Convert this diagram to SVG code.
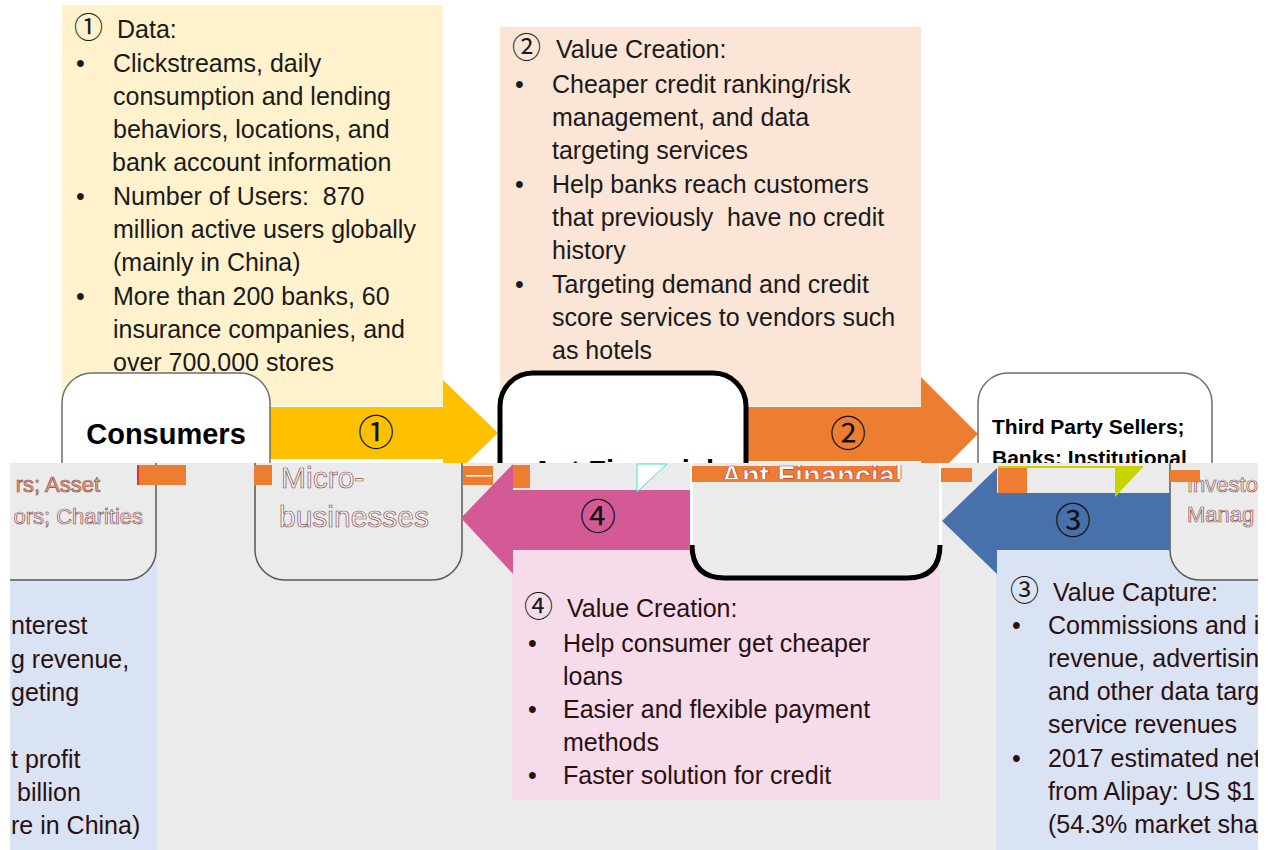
<svg xmlns="http://www.w3.org/2000/svg" width="1270" height="850" viewBox="0 0 1270 850">
<defs>
<style>
.t{font-family:"Liberation Sans",Arial,sans-serif;font-size:25px;fill:#1a1a1a}
.bt{fill:#2a1010}
.c{font-family:"Noto Sans CJK SC","DejaVu Sans",sans-serif;font-size:29px;fill:#1a1a1a}
.num{font-family:"Noto Sans CJK SC","DejaVu Sans",sans-serif;font-size:36px;fill:#111;text-anchor:middle}
.nd{fill:#fff;stroke:#6e6e6e;stroke-width:1.5}
.ndb{fill:#ebebeb;stroke:#5a5a5a;stroke-width:1.5}
.h{font-family:"Liberation Sans",Arial,sans-serif;font-weight:bold;fill:#000}
.g{font-family:"Liberation Sans",Arial,sans-serif;fill:#f4f4f4;stroke:#8a5050;stroke-width:0.7}
.og{fill:#ed7d31}
</style>
<clipPath id="topClip"><rect x="0" y="0" width="1270" height="463"/></clipPath>
<clipPath id="bandClip"><rect x="10" y="463" width="1248" height="387"/></clipPath>
<clipPath id="ghostAnt"><rect x="690" y="465" width="215" height="14"/></clipPath>
</defs>
<rect x="0" y="0" width="1270" height="850" fill="#fff"/>

<g id="top" clip-path="url(#topClip)">
  <g id="note-data">
    <rect x="62" y="5" width="381" height="401" fill="#fff2cc"/>
    <text class="c" x="74" y="38">①</text>
    <text class="t" x="117" y="38">Data:</text>
    <text class="t" x="76" y="72">•</text><text class="t" x="113" y="72">Clickstreams, daily</text>
    <text class="t" x="113" y="105">consumption and lending</text>
    <text class="t" x="113" y="138">behaviors, locations, and</text>
    <text class="t" x="112" y="171">bank account information</text>
    <text class="t" x="76" y="205">•</text><text class="t" x="113" y="205" xml:space="preserve">Number of Users:  870</text>
    <text class="t" x="113" y="238">million active users globally</text>
    <text class="t" x="113" y="271">(mainly in China)</text>
    <text class="t" x="76" y="305">•</text><text class="t" x="113" y="305">More than 200 banks, 60</text>
    <text class="t" x="113" y="338">insurance companies, and</text>
    <text class="t" x="113" y="371">over 700,000 stores</text>
  </g>
  <g id="note-value2">
    <rect x="500" y="27" width="421" height="379" fill="#fbe5d6"/>
    <text class="c" x="512" y="58">②</text>
    <text class="t" x="556" y="58">Value Creation:</text>
    <text class="t" x="515" y="93">•</text><text class="t" x="552" y="93">Cheaper credit ranking/risk</text>
    <text class="t" x="552" y="126">management, and data</text>
    <text class="t" x="552" y="159">targeting services</text>
    <text class="t" x="515" y="193">•</text><text class="t" x="552" y="193">Help banks reach customers</text>
    <text class="t" x="552" y="226" xml:space="preserve">that previously  have no credit</text>
    <text class="t" x="552" y="259">history</text>
    <text class="t" x="515" y="293">•</text><text class="t" x="552" y="293">Targeting demand and credit</text>
    <text class="t" x="552" y="326">score services to vendors such</text>
    <text class="t" x="552" y="359">as hotels</text>
  </g>
  <g id="connectors-top">
    <polygon points="270,407 443,407 443,380 498,433 443,486 443,459 270,459" fill="#ffc000"/>
    <text class="num" x="376" y="446">①</text>
    <polygon points="746,407 921,407 921,377 978,434 921,491 921,461 746,461" fill="#ed7d31"/>
    <text class="num" x="848" y="447">②</text>
  </g>
  <g id="consumers">
    <rect class="nd" x="62" y="373" width="208" height="200" rx="30"/>
    <text class="h" x="166" y="444" font-size="29" text-anchor="middle">Consumers</text>
  </g>
  <g id="ant-financial">
    <rect x="500" y="373" width="246" height="200" rx="33" fill="#fff" stroke="#000" stroke-width="5"/>
    <text class="h" x="623" y="481" font-size="29" text-anchor="middle">Ant Financial</text>
  </g>
  <g id="third-party">
    <rect class="nd" x="978" y="373" width="234" height="200" rx="30" stroke="#555"/>
    <text class="h" x="992" y="434" font-size="21">Third Party Sellers;</text>
    <text class="h" x="992" y="465" font-size="21">Banks: Institutional</text>
  </g>
</g>

<g id="bottom" clip-path="url(#bandClip)">
  <rect x="10" y="463" width="1248" height="387" fill="#ebebeb"/>
  <g id="note-left">
    <rect x="10" y="550" width="147" height="300" fill="#dae3f3"/>
    <text class="t bt" x="11" y="634">nterest</text>
    <text class="t bt" x="11" y="668">g revenue,</text>
    <text class="t bt" x="11" y="701">geting</text>
    <text class="t bt" x="11" y="768">t profit</text>
    <text class="t bt" x="17" y="801">billion</text>
    <text class="t bt" x="11" y="834">re in China)</text>
  </g>
  <g id="note-value3">
    <rect x="996" y="550" width="262" height="300" fill="#dae3f3"/>
    <text class="c bt" x="1010" y="601">③</text>
    <text class="t bt" x="1053" y="601">Value Capture:</text>
    <text class="t bt" x="1012" y="634">•</text><text class="t bt" x="1048" y="634">Commissions and i</text>
    <text class="t bt" x="1048" y="667">revenue, advertisin</text>
    <text class="t bt" x="1048" y="700">and other data targ</text>
    <text class="t bt" x="1048" y="733">service revenues</text>
    <text class="t bt" x="1012" y="767">•</text><text class="t bt" x="1048" y="767">2017 estimated net</text>
    <text class="t bt" x="1048" y="800">from Alipay: US $1</text>
    <text class="t bt" x="1048" y="833">(54.3% market shar</text>
  </g>
  <g id="note-value4">
    <rect x="512" y="550" width="428" height="250" fill="#f6dcea"/>
    <text class="c bt" x="524" y="617">④</text>
    <text class="t bt" x="567" y="617">Value Creation:</text>
    <text class="t bt" x="528" y="652">•</text><text class="t bt" x="563" y="652">Help consumer get cheaper</text>
    <text class="t bt" x="563" y="685">loans</text>
    <text class="t bt" x="528" y="718">•</text><text class="t bt" x="563" y="718">Easier and flexible payment</text>
    <text class="t bt" x="563" y="751">methods</text>
    <text class="t bt" x="528" y="784">•</text><text class="t bt" x="563" y="784">Faster solution for credit</text>
  </g>
  <g id="investors-left">
    <rect class="ndb" x="-100" y="400" width="256" height="180" rx="30"/>
    <text class="g" x="100" y="492" font-size="22" text-anchor="end" style="fill:#f3a878">rs; Asset</text>
    <text class="g" x="143" y="524" font-size="22" text-anchor="end">ors; Charities</text>
  </g>
  <g id="micro-businesses">
    <rect class="ndb" x="255" y="400" width="207" height="180" rx="30"/>
    <text class="g" x="281" y="488" font-size="30">Micro-</text>
    <text class="g" x="354" y="527" font-size="30" text-anchor="middle">businesses</text>
  </g>
  <g id="ant-financial-ghost">
    <rect x="692" y="400" width="248" height="178" rx="33" fill="#ebebeb"/>
    <path d="M692,545 Q692,578 725,578 L907,578 Q940,578 940,545" fill="none" stroke="#000" stroke-width="5"/>
    <line x1="691.5" y1="463" x2="691.5" y2="545" stroke="#fff" stroke-width="3"/>
    <line x1="940.5" y1="463" x2="940.5" y2="545" stroke="#fff" stroke-width="3"/>
  </g>
  <g id="investors-right">
    <rect class="ndb" x="1170" y="400" width="200" height="180" rx="30"/>
    <text class="g" x="1187" y="492" font-size="22">Investo</text>
    <text class="g" x="1187" y="522" font-size="22">Manag</text>
  </g>
  <g id="connectors-bottom">
    <polygon points="690,490 513,490 513,464 461,518 513,574 513,550 690,550" fill="#d45a96"/>
    <text class="num" x="598" y="530">④</text>
    <polygon points="1170,493 997,493 997,468 942,521 997,574 997,550 1170,550" fill="#4870aa"/>
    <text class="num" x="1073" y="534">③</text>
  </g>
  <g id="glitch">
    <rect class="og" x="138" y="465" width="48" height="20"/>
    <rect x="137" y="465" width="2" height="20" fill="#e03040"/>
    <rect class="og" x="254" y="465" width="18" height="20"/>
    <rect class="og" x="463" y="466" width="30" height="19"/>
    <rect x="466" y="475" width="26" height="1.5" fill="#fff"/>
    <rect class="og" x="513" y="465" width="17" height="23"/>
    <rect class="og" x="692" y="466" width="208" height="16"/>
    <g clip-path="url(#ghostAnt)"><text class="h" x="812" y="486" font-size="29" text-anchor="middle" style="fill:#fff;stroke:#c03030;stroke-width:0.7">Ant Financial</text></g>
    <rect class="og" x="941" y="468" width="31" height="14"/>
    <rect class="og" x="998" y="468" width="29" height="25"/>
    <rect x="998" y="466" width="145" height="2" fill="#d0d000"/>
    <polygon points="1115,467 1143,467 1115,497" fill="#c8d400"/>
    <rect class="og" x="1170" y="470" width="30" height="12"/>
    <polygon points="637,464 667,464 637,492" fill="#fff" stroke="#40e0d0" stroke-width="1"/>
  </g>
</g>
</svg>
